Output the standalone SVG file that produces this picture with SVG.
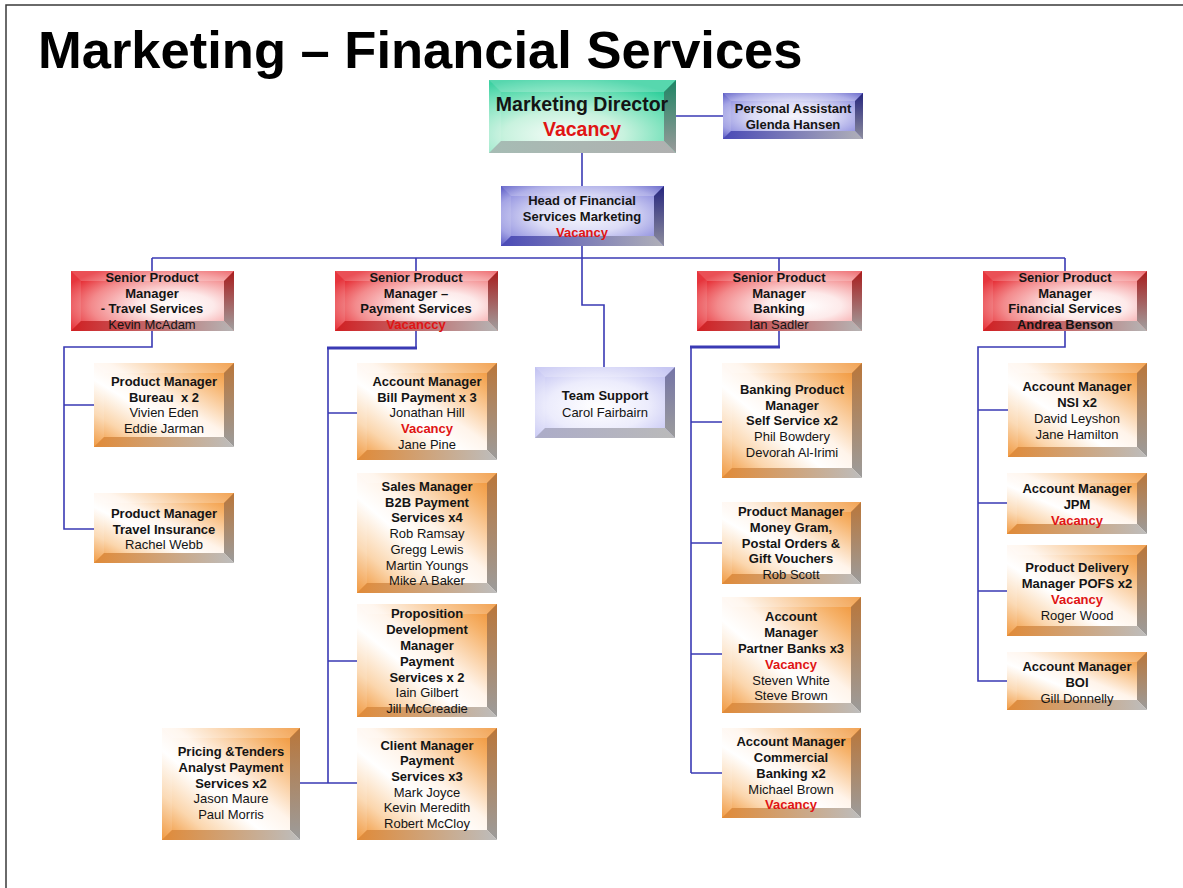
<svg xmlns="http://www.w3.org/2000/svg" width="1183" height="888" viewBox="0 0 1183 888">
<style>
.t{font-family:"Liberation Sans",Arial,sans-serif;font-size:13px;text-anchor:middle;fill:#141414}
.b{font-weight:bold}
.v{font-weight:bold;fill:#e01414}
.title{font-family:"Liberation Sans",Arial,sans-serif;font-size:52.5px;font-weight:bold;fill:#000}
.conn path{stroke:#3a3ab4;stroke-width:1.6;fill:none}
.conn path.thick{stroke-width:3.2}
.tb{fill:#fff;fill-opacity:.22}
.lb{fill:#fff;fill-opacity:.1}
.orange .face{fill:url(#fO)} .orange .rb{fill:url(#rO)} .orange .bb{fill:url(#bO)}
.red .face{fill:url(#fR)} .red .rb{fill:url(#rR)} .red .bb{fill:url(#bR)}
.blue .face{fill:url(#fB)} .blue .rb{fill:url(#rB)} .blue .bb{fill:url(#bB)}
.lav .face{fill:url(#fL)} .lav .rb{fill:url(#rL)} .lav .bb{fill:url(#bL)}
.green .face{fill:url(#fG)} .green .rb{fill:url(#rG)} .green .bb{fill:url(#bG)}
</style>
<defs>
<linearGradient id="fO" x1="1" y1="0" x2="0" y2="1"><stop offset="0" stop-color="#ee8a26"/><stop offset=".18" stop-color="#f6b26a"/><stop offset=".45" stop-color="#fff4ea"/><stop offset=".6" stop-color="#fff"/><stop offset=".8" stop-color="#fbd6ad"/><stop offset="1" stop-color="#ef8e2c"/></linearGradient>
<linearGradient id="rO" x1="0" y1="0" x2="0" y2="1"><stop offset="0" stop-color="#b9763a"/><stop offset="1" stop-color="#9c9c9c"/></linearGradient>
<linearGradient id="bO" x1="0" y1="0" x2="1" y2="0"><stop offset="0" stop-color="#e08a38"/><stop offset="1" stop-color="#bdbdbd"/></linearGradient>
<radialGradient id="fR" cx="65%" cy="58%" r="75%"><stop offset="0" stop-color="#fff"/><stop offset=".3" stop-color="#fdeaea"/><stop offset=".7" stop-color="#f38a8c"/><stop offset="1" stop-color="#e41f27"/></radialGradient>
<linearGradient id="rR" x1="0" y1="0" x2="0" y2="1"><stop offset="0" stop-color="#a81c1c"/><stop offset="1" stop-color="#a0a0a0"/></linearGradient>
<linearGradient id="bR" x1="0" y1="0" x2="1" y2="0"><stop offset="0" stop-color="#d01f22"/><stop offset="1" stop-color="#b5b5b5"/></linearGradient>
<radialGradient id="fB" cx="50%" cy="50%" r="72%"><stop offset="0" stop-color="#f4f4fc"/><stop offset=".4" stop-color="#dcdcf6"/><stop offset=".75" stop-color="#9a9ae2"/><stop offset="1" stop-color="#3c3cba"/></radialGradient>
<linearGradient id="rB" x1="0" y1="0" x2="0" y2="1"><stop offset="0" stop-color="#26267e"/><stop offset="1" stop-color="#8c8c9c"/></linearGradient>
<linearGradient id="bB" x1="0" y1="0" x2="1" y2="0"><stop offset="0" stop-color="#4a4ab6"/><stop offset="1" stop-color="#b0b0b8"/></linearGradient>
<radialGradient id="fL" cx="45%" cy="55%" r="72%"><stop offset="0" stop-color="#fff"/><stop offset=".5" stop-color="#ececfc"/><stop offset="1" stop-color="#b8b8f0"/></radialGradient>
<linearGradient id="rL" x1="0" y1="0" x2="0" y2="1"><stop offset="0" stop-color="#7474a6"/><stop offset="1" stop-color="#9c9c9c"/></linearGradient>
<linearGradient id="bL" x1="0" y1="0" x2="1" y2="0"><stop offset="0" stop-color="#acacc8"/><stop offset="1" stop-color="#bababa"/></linearGradient>
<radialGradient id="fG" cx="40%" cy="75%" r="80%"><stop offset="0" stop-color="#f6fdf9"/><stop offset=".4" stop-color="#c8f2de"/><stop offset=".8" stop-color="#5edcb0"/><stop offset="1" stop-color="#28cc98"/></radialGradient>
<linearGradient id="rG" x1="0" y1="0" x2="0" y2="1"><stop offset="0" stop-color="#1e8464"/><stop offset="1" stop-color="#9a9a9a"/></linearGradient>
<linearGradient id="bG" x1="0" y1="0" x2="1" y2="0"><stop offset="0" stop-color="#a6bcb4"/><stop offset="1" stop-color="#b0b0b0"/></linearGradient>
</defs>

<rect x="0" y="0" width="1183" height="888" fill="#fff"/>
<path d="M6 888 V5 H1183" stroke="#3a3a3a" stroke-width="1.5" fill="none"/>
<text class="title" x="38" y="68">Marketing – Financial Services</text>

<g class="conn" id="connectors">
<path d="M676 116 H723"/>
<path d="M582 153 V186"/>
<path d="M582 246 V258"/>
<path d="M152 258 H1065"/>
<path d="M152 258 V271 M416 258 V271 M779 258 V271 M1065 258 V271"/>
<path d="M582 258 V305 H604 V367"/>
<path d="M152 331 V347 H64 V529 H94 M64 405 H94"/>
<path d="M416 331 V348"/>
<path class="thick" d="M327 348 H417"/>
<path d="M328 348 V783 M328 413 H357 M328 661 H357 M300 783 H357"/>
<path d="M779 331 V347"/>
<path class="thick" d="M690 347 H780"/>
<path d="M691 347 V773 M691 422 H722 M691 543 H722 M691 654 H722 M691 773 H722"/>
<path d="M1065 331 V347 H978 V681 H1007 M978 410 H1008 M978 503 H1007 M978 591 H1007"/>
</g>

<g id="director" class="green">
<rect class="face" x="489" y="80" width="187" height="73"/>
<polygon class="tb" points="489,80 676,80 664,92 501,92"/>
<polygon class="lb" points="489,80 501,92 501,141 489,153"/>
<polygon class="rb" points="676,80 676,153 664,141 664,92"/>
<polygon class="bb" points="489,153 676,153 664,141 501,141"/>
<text class="t b" style="font-size:19.5px" x="582" y="111">Marketing Director</text>
<text class="t v" style="font-size:19.5px" x="582" y="136">Vacancy</text>
</g>

<g id="assistant" class="blue">
<rect class="face" x="723" y="93" width="140" height="46"/>
<polygon class="tb" points="723,93 863,93 855,101 731,101"/>
<polygon class="lb" points="723,93 731,101 731,131 723,139"/>
<polygon class="rb" points="863,93 863,139 855,131 855,101"/>
<polygon class="bb" points="723,139 863,139 855,131 731,131"/>
<text class="t b" x="793" y="113">Personal Assistant</text>
<text class="t b" x="793" y="129">Glenda Hansen</text>
</g>

<g id="head" class="blue">
<rect class="face" x="501" y="186" width="163" height="60"/>
<polygon class="tb" points="501,186 664,186 654,196 511,196"/>
<polygon class="lb" points="501,186 511,196 511,236 501,246"/>
<polygon class="rb" points="664,186 664,246 654,236 654,196"/>
<polygon class="bb" points="501,246 664,246 654,236 511,236"/>
<text class="t b" x="582" y="205">Head of Financial</text>
<text class="t b" x="582" y="221">Services Marketing</text>
<text class="t v" x="582" y="237">Vacancy</text>
</g>

<g id="spm-travel" class="red">
<rect class="face" x="71" y="271" width="163" height="60"/>
<polygon class="tb" points="71,271 234,271 224,281 81,281"/>
<polygon class="lb" points="71,271 81,281 81,321 71,331"/>
<polygon class="rb" points="234,271 234,331 224,321 224,281"/>
<polygon class="bb" points="71,331 234,331 224,321 81,321"/>
<text class="t b" x="152" y="282">Senior Product</text>
<text class="t b" x="152" y="298">Manager</text>
<text class="t b" x="152" y="313">- Travel Services</text>
<text class="t" x="152" y="329">Kevin McAdam</text>
</g>

<g id="spm-payment" class="red">
<rect class="face" x="335" y="271" width="163" height="60"/>
<polygon class="tb" points="335,271 498,271 488,281 345,281"/>
<polygon class="lb" points="335,271 345,281 345,321 335,331"/>
<polygon class="rb" points="498,271 498,331 488,321 488,281"/>
<polygon class="bb" points="335,331 498,331 488,321 345,321"/>
<text class="t b" x="416" y="282">Senior Product</text>
<text class="t b" x="416" y="298">Manager –</text>
<text class="t b" x="416" y="313">Payment Services</text>
<text class="t v" x="416" y="329">Vacanccy</text>
</g>

<g id="spm-banking" class="red">
<rect class="face" x="697" y="271" width="165" height="60"/>
<polygon class="tb" points="697,271 862,271 852,281 707,281"/>
<polygon class="lb" points="697,271 707,281 707,321 697,331"/>
<polygon class="rb" points="862,271 862,331 852,321 852,281"/>
<polygon class="bb" points="697,331 862,331 852,321 707,321"/>
<text class="t b" x="779" y="282">Senior Product</text>
<text class="t b" x="779" y="298">Manager</text>
<text class="t b" x="779" y="313">Banking</text>
<text class="t" x="779" y="329">Ian Sadler</text>
</g>

<g id="spm-financial" class="red">
<rect class="face" x="983" y="271" width="164" height="60"/>
<polygon class="tb" points="983,271 1147,271 1137,281 993,281"/>
<polygon class="lb" points="983,271 993,281 993,321 983,331"/>
<polygon class="rb" points="1147,271 1147,331 1137,321 1137,281"/>
<polygon class="bb" points="983,331 1147,331 1137,321 993,321"/>
<text class="t b" x="1065" y="282">Senior Product</text>
<text class="t b" x="1065" y="298">Manager</text>
<text class="t b" x="1065" y="313">Financial Services</text>
<text class="t b" x="1065" y="329">Andrea Benson</text>
</g>

<g id="pm-bureau" class="orange">
<rect class="face" x="94" y="363" width="140" height="84"/>
<polygon class="tb" points="94,363 234,363 224,373 104,373"/>
<polygon class="lb" points="94,363 104,373 104,437 94,447"/>
<polygon class="rb" points="234,363 234,447 224,437 224,373"/>
<polygon class="bb" points="94,447 234,447 224,437 104,437"/>
<text class="t b" x="164" y="386">Product Manager</text>
<text class="t b" x="164" y="402" xml:space="preserve">Bureau  x 2</text>
<text class="t" x="164" y="417">Vivien Eden</text>
<text class="t" x="164" y="433">Eddie Jarman</text>
</g>

<g id="pm-travel-insurance" class="orange">
<rect class="face" x="94" y="493" width="140" height="70"/>
<polygon class="tb" points="94,493 234,493 224,503 104,503"/>
<polygon class="lb" points="94,493 104,503 104,553 94,563"/>
<polygon class="rb" points="234,493 234,563 224,553 224,503"/>
<polygon class="bb" points="94,563 234,563 224,553 104,553"/>
<text class="t b" x="164" y="518">Product Manager</text>
<text class="t b" x="164" y="534">Travel Insurance</text>
<text class="t" x="164" y="549">Rachel Webb</text>
</g>

<g id="am-bill-payment" class="orange">
<rect class="face" x="357" y="363" width="140" height="97"/>
<polygon class="tb" points="357,363 497,363 487,373 367,373"/>
<polygon class="lb" points="357,363 367,373 367,450 357,460"/>
<polygon class="rb" points="497,363 497,460 487,450 487,373"/>
<polygon class="bb" points="357,460 497,460 487,450 367,450"/>
<text class="t b" x="427" y="386">Account Manager</text>
<text class="t b" x="427" y="402">Bill Payment x 3</text>
<text class="t" x="427" y="417">Jonathan Hill</text>
<text class="t v" x="427" y="433">Vacancy</text>
<text class="t" x="427" y="449">Jane Pine</text>
</g>

<g id="sm-b2b" class="orange">
<rect class="face" x="357" y="473" width="140" height="120"/>
<polygon class="tb" points="357,473 497,473 487,483 367,483"/>
<polygon class="lb" points="357,473 367,483 367,583 357,593"/>
<polygon class="rb" points="497,473 497,593 487,583 487,483"/>
<polygon class="bb" points="357,593 497,593 487,583 367,583"/>
<text class="t b" x="427" y="491">Sales Manager</text>
<text class="t b" x="427" y="507">B2B Payment</text>
<text class="t b" x="427" y="522">Services x4</text>
<text class="t" x="427" y="538">Rob Ramsay</text>
<text class="t" x="427" y="554">Gregg Lewis</text>
<text class="t" x="427" y="570">Martin Youngs</text>
<text class="t" x="427" y="585">Mike A Baker</text>
</g>

<g id="pdm-payment" class="orange">
<rect class="face" x="357" y="604" width="140" height="113"/>
<polygon class="tb" points="357,604 497,604 487,614 367,614"/>
<polygon class="lb" points="357,604 367,614 367,707 357,717"/>
<polygon class="rb" points="497,604 497,717 487,707 487,614"/>
<polygon class="bb" points="357,717 497,717 487,707 367,707"/>
<text class="t b" x="427" y="618">Proposition</text>
<text class="t b" x="427" y="634">Development</text>
<text class="t b" x="427" y="650">Manager</text>
<text class="t b" x="427" y="666">Payment</text>
<text class="t b" x="427" y="682">Services x 2</text>
<text class="t" x="427" y="697">Iain Gilbert</text>
<text class="t" x="427" y="713">Jill McCreadie</text>
</g>

<g id="cm-payment" class="orange">
<rect class="face" x="357" y="728" width="140" height="112"/>
<polygon class="tb" points="357,728 497,728 487,738 367,738"/>
<polygon class="lb" points="357,728 367,738 367,830 357,840"/>
<polygon class="rb" points="497,728 497,840 487,830 487,738"/>
<polygon class="bb" points="357,840 497,840 487,830 367,830"/>
<text class="t b" x="427" y="750">Client Manager</text>
<text class="t b" x="427" y="765">Payment</text>
<text class="t b" x="427" y="781">Services x3</text>
<text class="t" x="427" y="797">Mark Joyce</text>
<text class="t" x="427" y="812">Kevin Meredith</text>
<text class="t" x="427" y="828">Robert McCloy</text>
</g>

<g id="pricing-tenders" class="orange">
<rect class="face" x="162" y="728" width="138" height="112"/>
<polygon class="tb" points="162,728 300,728 290,738 172,738"/>
<polygon class="lb" points="162,728 172,738 172,830 162,840"/>
<polygon class="rb" points="300,728 300,840 290,830 290,738"/>
<polygon class="bb" points="162,840 300,840 290,830 172,830"/>
<text class="t b" x="231" y="756">Pricing &amp;Tenders</text>
<text class="t b" x="231" y="772">Analyst Payment</text>
<text class="t b" x="231" y="788">Services x2</text>
<text class="t" x="231" y="803">Jason Maure</text>
<text class="t" x="231" y="819">Paul Morris</text>
</g>

<g id="team-support" class="lav">
<rect class="face" x="535" y="367" width="140" height="71"/>
<polygon class="tb" points="535,367 675,367 665,377 545,377"/>
<polygon class="lb" points="535,367 545,377 545,428 535,438"/>
<polygon class="rb" points="675,367 675,438 665,428 665,377"/>
<polygon class="bb" points="535,438 675,438 665,428 545,428"/>
<text class="t b" x="605" y="400">Team Support</text>
<text class="t" x="605" y="417">Carol Fairbairn</text>
</g>

<g id="bpm-self-service" class="orange">
<rect class="face" x="722" y="363" width="140" height="115"/>
<polygon class="tb" points="722,363 862,363 852,373 732,373"/>
<polygon class="lb" points="722,363 732,373 732,468 722,478"/>
<polygon class="rb" points="862,363 862,478 852,468 852,373"/>
<polygon class="bb" points="722,478 862,478 852,468 732,468"/>
<text class="t b" x="792" y="394">Banking Product</text>
<text class="t b" x="792" y="410">Manager</text>
<text class="t b" x="792" y="425">Self Service x2</text>
<text class="t" x="792" y="441">Phil Bowdery</text>
<text class="t" x="792" y="457">Devorah Al-Irimi</text>
</g>

<g id="pm-moneygram" class="orange">
<rect class="face" x="722" y="502" width="139" height="82"/>
<polygon class="tb" points="722,502 861,502 851,512 732,512"/>
<polygon class="lb" points="722,502 732,512 732,574 722,584"/>
<polygon class="rb" points="861,502 861,584 851,574 851,512"/>
<polygon class="bb" points="722,584 861,584 851,574 732,574"/>
<text class="t b" x="791" y="516">Product Manager</text>
<text class="t b" x="791" y="532">Money Gram,</text>
<text class="t b" x="791" y="548">Postal Orders &amp;</text>
<text class="t b" x="791" y="563">Gift Vouchers</text>
<text class="t" x="791" y="579">Rob Scott</text>
</g>

<g id="am-partner-banks" class="orange">
<rect class="face" x="722" y="597" width="139" height="116"/>
<polygon class="tb" points="722,597 861,597 851,607 732,607"/>
<polygon class="lb" points="722,597 732,607 732,703 722,713"/>
<polygon class="rb" points="861,597 861,713 851,703 851,607"/>
<polygon class="bb" points="722,713 861,713 851,703 732,703"/>
<text class="t b" x="791" y="621">Account</text>
<text class="t b" x="791" y="637">Manager</text>
<text class="t b" x="791" y="653">Partner Banks x3</text>
<text class="t v" x="791" y="669">Vacancy</text>
<text class="t" x="791" y="685">Steven White</text>
<text class="t" x="791" y="700">Steve Brown</text>
</g>

<g id="am-commercial" class="orange">
<rect class="face" x="722" y="728" width="139" height="90"/>
<polygon class="tb" points="722,728 861,728 851,738 732,738"/>
<polygon class="lb" points="722,728 732,738 732,808 722,818"/>
<polygon class="rb" points="861,728 861,818 851,808 851,738"/>
<polygon class="bb" points="722,818 861,818 851,808 732,808"/>
<text class="t b" x="791" y="746">Account Manager</text>
<text class="t b" x="791" y="762">Commercial</text>
<text class="t b" x="791" y="778">Banking x2</text>
<text class="t" x="791" y="794">Michael Brown</text>
<text class="t v" x="791" y="809">Vacancy</text>
</g>

<g id="am-nsi" class="orange">
<rect class="face" x="1008" y="363" width="139" height="94"/>
<polygon class="tb" points="1008,363 1147,363 1137,373 1018,373"/>
<polygon class="lb" points="1008,363 1018,373 1018,447 1008,457"/>
<polygon class="rb" points="1147,363 1147,457 1137,447 1137,373"/>
<polygon class="bb" points="1008,457 1147,457 1137,447 1018,447"/>
<text class="t b" x="1077" y="391">Account Manager</text>
<text class="t b" x="1077" y="407">NSI x2</text>
<text class="t" x="1077" y="423">David Leyshon</text>
<text class="t" x="1077" y="439">Jane Hamilton</text>
</g>

<g id="am-jpm" class="orange">
<rect class="face" x="1007" y="473" width="140" height="61"/>
<polygon class="tb" points="1007,473 1147,473 1137,483 1017,483"/>
<polygon class="lb" points="1007,473 1017,483 1017,524 1007,534"/>
<polygon class="rb" points="1147,473 1147,534 1137,524 1137,483"/>
<polygon class="bb" points="1007,534 1147,534 1137,524 1017,524"/>
<text class="t b" x="1077" y="493">Account Manager</text>
<text class="t b" x="1077" y="509">JPM</text>
<text class="t v" x="1077" y="525">Vacancy</text>
</g>

<g id="pdm-pofs" class="orange">
<rect class="face" x="1007" y="545" width="140" height="91"/>
<polygon class="tb" points="1007,545 1147,545 1137,555 1017,555"/>
<polygon class="lb" points="1007,545 1017,555 1017,626 1007,636"/>
<polygon class="rb" points="1147,545 1147,636 1137,626 1137,555"/>
<polygon class="bb" points="1007,636 1147,636 1137,626 1017,626"/>
<text class="t b" x="1077" y="572">Product Delivery</text>
<text class="t b" x="1077" y="588">Manager POFS x2</text>
<text class="t v" x="1077" y="604">Vacancy</text>
<text class="t" x="1077" y="620">Roger Wood</text>
</g>

<g id="am-boi" class="orange">
<rect class="face" x="1007" y="652" width="140" height="58"/>
<polygon class="tb" points="1007,652 1147,652 1137,662 1017,662"/>
<polygon class="lb" points="1007,652 1017,662 1017,700 1007,710"/>
<polygon class="rb" points="1147,652 1147,710 1137,700 1137,662"/>
<polygon class="bb" points="1007,710 1147,710 1137,700 1017,700"/>
<text class="t b" x="1077" y="671">Account Manager</text>
<text class="t b" x="1077" y="687">BOI</text>
<text class="t" x="1077" y="703">Gill Donnelly</text>
</g>
</svg>
